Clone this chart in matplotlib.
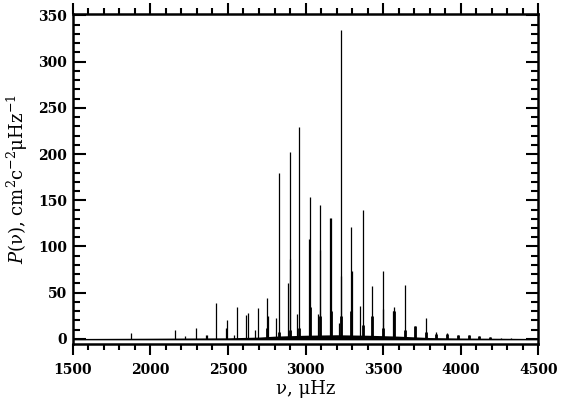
import matplotlib
matplotlib.use("Agg")
import matplotlib.pyplot as plt
from matplotlib.ticker import MultipleLocator

# Peak frequencies (μHz) and peak powers
peak_freq = [1878, 2160, 2222, 2295, 2357, 2367, 2425, 2490, 2495, 2537,
             2558, 2619, 2630, 2677, 2691, 2754, 2757, 2810, 2826, 2887,
             2897, 2899, 2947, 2959, 3022, 3029, 3080, 3092, 3094, 3160,
             3164, 3213, 3225, 3227, 3292, 3298, 3353, 3369, 3430, 3498,
             3500, 3566, 3568, 3638, 3703, 3775, 3843, 3913, 3983, 4052,
             4118, 4188, 4258, 4320]
peak_power = [6, 10, 3, 12, 4, 4, 39, 12, 21, 4,
              34, 26, 28, 10, 33, 44, 25, 23, 180, 61,
              86, 202, 27, 229, 108, 153, 27, 96, 145, 131,
              131, 17, 68, 334, 121, 74, 36, 140, 57, 32,
              73, 30, 34, 58, 14, 23, 7, 6, 4, 4,
              3, 2, 1.5, 1]

# Broad bases of the mode profiles
base_freq = [2754, 2826, 2899, 2959, 3029, 3094, 3162, 3227, 3295, 3369,
             3430, 3500, 3568, 3638, 3703, 3775, 3843, 3913, 3983, 4052,
             4118, 4188]
base_power = [12, 8, 10, 12, 35, 25, 30, 25, 30, 15,
              25, 12, 30, 10, 14, 8, 5, 5, 4, 4,
              3, 2]

# Background noise envelope
bg_freq = [1500, 2000, 2500, 2700, 2800, 3000, 3200, 3400, 3600, 3800, 4000, 4500]
bg_power = [0.5, 0.8, 1.2, 2, 3, 4, 4.5, 4, 3, 1.5, 1, 0.5]

x_ticks = [1500, 2000, 2500, 3000, 3500, 4000, 4500]
y_ticks = [0, 50, 100, 150, 200, 250, 300, 350]

plt.rcParams['mathtext.fontset'] = 'dejavuserif'

fig = plt.figure(figsize=(5.68, 4.05), dpi=100)
ax = fig.add_axes([0.128, 0.1506, 0.82, 0.816])

ax.fill_between(bg_freq, -1, bg_power, color='black', lw=0)
ax.vlines(base_freq, 0, base_power, colors='black', lw=2.0)
ax.vlines(peak_freq, 0, peak_power, colors='black', lw=0.9)

ax.set_xlim(1500, 4500)
ax.set_ylim(-5.5, 352)
ax.set_xticks(x_ticks)
ax.set_yticks(y_ticks)
ax.xaxis.set_minor_locator(MultipleLocator(100))
ax.yaxis.set_minor_locator(MultipleLocator(10))

for s in ax.spines.values():
    s.set_linewidth(1.8)

ax.tick_params(axis='x', which='both', direction='out', top=True, bottom=True, width=1.5, pad=6)
ax.tick_params(axis='x', which='major', length=8)
ax.tick_params(axis='x', which='minor', length=4)
ax.tick_params(axis='y', which='both', direction='in', left=True, right=True, width=1.5, pad=4)
ax.tick_params(axis='y', which='major', length=9)
ax.tick_params(axis='y', which='minor', length=5)

for lab in ax.get_xticklabels() + ax.get_yticklabels():
    lab.set_fontfamily('DejaVu Serif')
    lab.set_fontweight('bold')
    lab.set_fontsize(10)

ax.set_xlabel('ν, μHz', family='DejaVu Serif', fontsize=13, labelpad=2)
ax.set_ylabel(r'$P$(ν), cm$^2$c$^{-2}$μHz$^{-1}$', family='DejaVu Serif', fontsize=13, labelpad=6)

fig.savefig('out.png', dpi=100)
